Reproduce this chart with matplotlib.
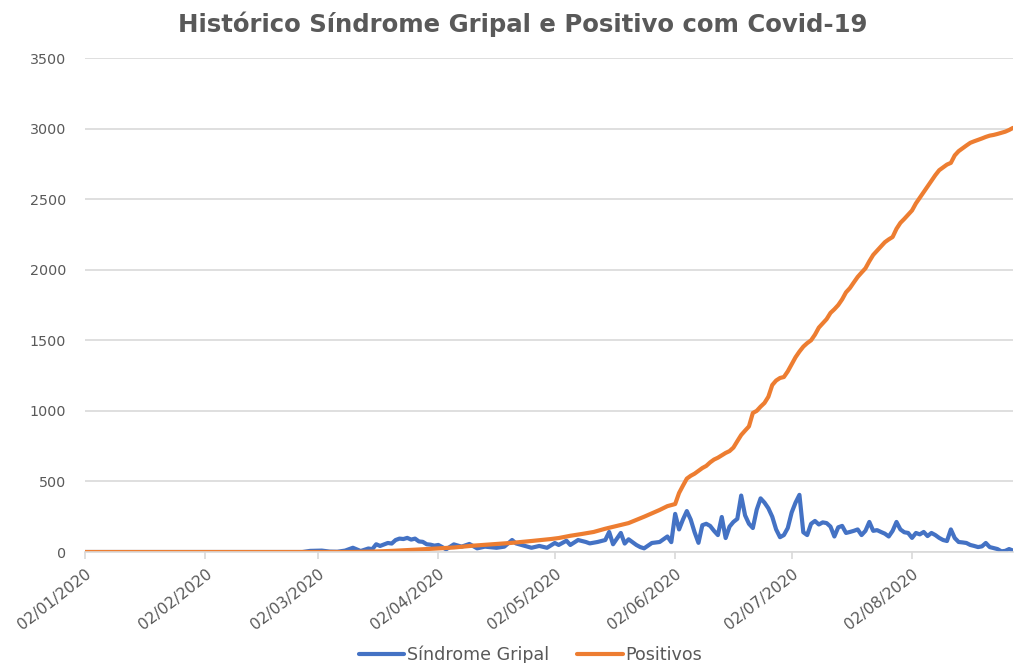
import matplotlib
matplotlib.use("Agg")
import matplotlib.pyplot as plt
import pandas as pd

# ---- data ----
sg_dates = ["2020-01-02", "2020-02-27", "2020-02-29", "2020-03-03", "2020-03-05", "2020-03-07",
            "2020-03-09", "2020-03-11", "2020-03-13", "2020-03-15", "2020-03-16", "2020-03-17",
            "2020-03-18", "2020-03-20", "2020-03-21", "2020-03-22", "2020-03-23", "2020-03-24",
            "2020-03-25", "2020-03-26", "2020-03-27", "2020-03-28", "2020-03-29", "2020-03-30",
            "2020-03-31", "2020-04-01", "2020-04-02", "2020-04-03", "2020-04-04", "2020-04-06",
            "2020-04-08", "2020-04-10", "2020-04-12", "2020-04-14", "2020-04-17", "2020-04-19",
            "2020-04-21", "2020-04-22", "2020-04-25", "2020-04-26", "2020-04-28", "2020-04-30",
            "2020-05-02", "2020-05-03", "2020-05-05", "2020-05-06", "2020-05-08", "2020-05-10",
            "2020-05-11", "2020-05-13", "2020-05-15", "2020-05-16", "2020-05-17", "2020-05-19",
            "2020-05-20", "2020-05-21", "2020-05-23", "2020-05-24", "2020-05-25", "2020-05-27",
            "2020-05-29", "2020-05-31", "2020-06-01", "2020-06-02", "2020-06-03", "2020-06-04",
            "2020-06-05", "2020-06-06", "2020-06-07", "2020-06-08", "2020-06-09", "2020-06-10",
            "2020-06-11", "2020-06-12", "2020-06-13", "2020-06-14", "2020-06-15", "2020-06-16",
            "2020-06-17", "2020-06-18", "2020-06-19", "2020-06-20", "2020-06-21", "2020-06-22",
            "2020-06-23", "2020-06-24", "2020-06-25", "2020-06-26", "2020-06-27", "2020-06-28",
            "2020-06-29", "2020-06-30", "2020-07-01", "2020-07-02", "2020-07-03", "2020-07-04",
            "2020-07-05", "2020-07-06", "2020-07-07", "2020-07-08", "2020-07-09", "2020-07-10",
            "2020-07-11", "2020-07-12", "2020-07-13", "2020-07-14", "2020-07-15", "2020-07-16",
            "2020-07-17", "2020-07-18", "2020-07-19", "2020-07-20", "2020-07-21", "2020-07-22",
            "2020-07-23", "2020-07-24", "2020-07-25", "2020-07-26", "2020-07-27", "2020-07-28",
            "2020-07-29", "2020-07-30", "2020-07-31", "2020-08-01", "2020-08-02", "2020-08-03",
            "2020-08-04", "2020-08-05", "2020-08-06", "2020-08-07", "2020-08-08", "2020-08-09",
            "2020-08-10", "2020-08-11", "2020-08-12", "2020-08-13", "2020-08-14", "2020-08-15",
            "2020-08-16", "2020-08-17", "2020-08-18", "2020-08-19", "2020-08-20", "2020-08-21",
            "2020-08-22", "2020-08-23", "2020-08-24", "2020-08-25", "2020-08-26", "2020-08-27",
            "2020-08-28"]
sg_values = [0, 0, 8, 10, 3, 2,
             10, 30, 7, 25, 20, 55,
             43, 64, 60, 85, 95, 92,
             100, 88, 95, 75, 72, 55,
             52, 45, 50, 35, 19, 54,
             38, 57, 26, 38, 30, 38,
             85, 61, 38, 30, 43, 30,
             64, 50, 80, 50, 85, 71,
             61, 71, 85, 142, 55, 135,
             60, 90, 50, 35, 26, 64,
             71, 110, 70, 270, 160, 230,
             290, 230, 140, 65, 190, 200,
             185, 150, 120, 248, 99, 180,
             213, 235, 400, 260, 200, 170,
             300, 380, 350, 310, 250, 160,
             105, 120, 170, 280, 350, 405,
             140, 120, 200, 220, 195, 210,
             205, 180, 110, 175, 185, 135,
             142, 150, 160, 120, 150, 213,
             150, 155, 142, 130, 110, 150,
             213, 160, 140, 135, 100, 135,
             125, 142, 113, 135, 120, 100,
             85, 78, 160, 99, 71, 68,
             64, 50, 43, 35, 40, 64,
             35, 28, 21, 5, 8, 21,
             10]

pos_dates = ["2020-01-02", "2020-03-11", "2020-03-16", "2020-03-21", "2020-03-26", "2020-04-01",
             "2020-04-06", "2020-04-11", "2020-04-16", "2020-04-21", "2020-04-26", "2020-05-01",
             "2020-05-03", "2020-05-06", "2020-05-09", "2020-05-12", "2020-05-15", "2020-05-18",
             "2020-05-21", "2020-05-25", "2020-05-29", "2020-05-31", "2020-06-02", "2020-06-03",
             "2020-06-04", "2020-06-05", "2020-06-06", "2020-06-07", "2020-06-08", "2020-06-09",
             "2020-06-10", "2020-06-11", "2020-06-12", "2020-06-13", "2020-06-14", "2020-06-15",
             "2020-06-16", "2020-06-17", "2020-06-18", "2020-06-19", "2020-06-20", "2020-06-21",
             "2020-06-22", "2020-06-23", "2020-06-24", "2020-06-25", "2020-06-26", "2020-06-27",
             "2020-06-28", "2020-06-29", "2020-06-30", "2020-07-01", "2020-07-02", "2020-07-03",
             "2020-07-04", "2020-07-05", "2020-07-06", "2020-07-07", "2020-07-08", "2020-07-09",
             "2020-07-10", "2020-07-11", "2020-07-12", "2020-07-13", "2020-07-14", "2020-07-15",
             "2020-07-16", "2020-07-17", "2020-07-18", "2020-07-19", "2020-07-20", "2020-07-21",
             "2020-07-22", "2020-07-23", "2020-07-24", "2020-07-25", "2020-07-26", "2020-07-27",
             "2020-07-28", "2020-07-29", "2020-07-30", "2020-07-31", "2020-08-01", "2020-08-02",
             "2020-08-03", "2020-08-04", "2020-08-05", "2020-08-06", "2020-08-07", "2020-08-08",
             "2020-08-09", "2020-08-10", "2020-08-11", "2020-08-12", "2020-08-13", "2020-08-14",
             "2020-08-15", "2020-08-16", "2020-08-17", "2020-08-18", "2020-08-19", "2020-08-20",
             "2020-08-21", "2020-08-22", "2020-08-23", "2020-08-24", "2020-08-25", "2020-08-26",
             "2020-08-27", "2020-08-28"]
pos_values = [0, 0, 3, 8, 15, 24,
              32, 45, 55, 65, 78, 92,
              99, 115, 128, 142, 165, 185,
              205, 250, 298, 325, 340, 418,
              470, 520, 540, 555, 575, 595,
              610, 635, 655, 668, 685, 702,
              715, 740, 785, 829, 860, 890,
              985, 1000, 1030, 1056, 1100, 1183,
              1215, 1233, 1240, 1280, 1330, 1380,
              1420, 1455, 1480, 1500, 1540, 1590,
              1620, 1650, 1694, 1720, 1750, 1790,
              1840, 1870, 1910, 1949, 1980, 2010,
              2060, 2105, 2135, 2165, 2195, 2215,
              2232, 2290, 2332, 2360, 2390, 2420,
              2470, 2510, 2550, 2590, 2630, 2670,
              2705, 2725, 2745, 2757, 2810, 2840,
              2860, 2880, 2899, 2910, 2920, 2930,
              2941, 2950, 2955, 2962, 2970, 2978,
              2990, 3005]

tick_dates = ["2020-01-02", "2020-02-02", "2020-03-02", "2020-04-02",
              "2020-05-02", "2020-06-02", "2020-07-02", "2020-08-02"]
y_ticks = [0, 500, 1000, 1500, 2000, 2500, 3000, 3500]

title = "Histórico Síndrome Gripal e Positivo com Covid-19"
series_names = ["Síndrome Gripal", "Positivos"]

# ---- plot ----
plt.rcParams['font.family'] = ['DejaVu Sans']
gray = "#595959"

fig = plt.figure(figsize=(10.14, 6.63), dpi=100)
ax = fig.add_axes([0.0838, 0.1674, 0.9152, 0.7451])

ax.plot(pd.to_datetime(sg_dates), sg_values, color="#4472C4", lw=3.0,
        label=series_names[0], solid_joinstyle="round", solid_capstyle="round")
ax.plot(pd.to_datetime(pos_dates), pos_values, color="#ED7D31", lw=3.0,
        label=series_names[1], solid_joinstyle="round", solid_capstyle="round")

ax.set_xlim(pd.Timestamp("2020-01-02"), pd.Timestamp("2020-08-28"))
ax.set_ylim(0, 3500)
ax.set_yticks(y_ticks)
ax.set_yticklabels([str(v) for v in y_ticks], color=gray, fontsize=10.3)
ax.tick_params(axis='y', length=0, pad=13.5)

ticks = pd.to_datetime(tick_dates)
ax.set_xticks(ticks)
ax.set_xticklabels([t.strftime("%d/%m/%Y") for t in ticks], rotation=38,
                   ha='right', va='top', rotation_mode='anchor', color=gray, fontsize=11.2)
ax.tick_params(axis='x', length=5, color="#d9d9d9", width=1.2, pad=5)

ax.grid(axis='y', color="#d9d9d9", lw=1.2)
ax.set_axisbelow(True)
for s in ["top", "right", "left"]:
    ax.spines[s].set_visible(False)
ax.spines["bottom"].set_color("#d9d9d9")
ax.spines["bottom"].set_linewidth(1.2)

fig.suptitle(title, x=0.515, y=0.983, fontsize=17.6, fontweight='bold', color=gray)

leg = fig.legend(loc='lower center', bbox_to_anchor=(0.523, -0.026), ncol=2, frameon=False,
                 fontsize=12.6, handlelength=2.6, columnspacing=1.6, handletextpad=0.15)
for t in leg.get_texts():
    t.set_color(gray)

fig.savefig("out.png", dpi=100)
